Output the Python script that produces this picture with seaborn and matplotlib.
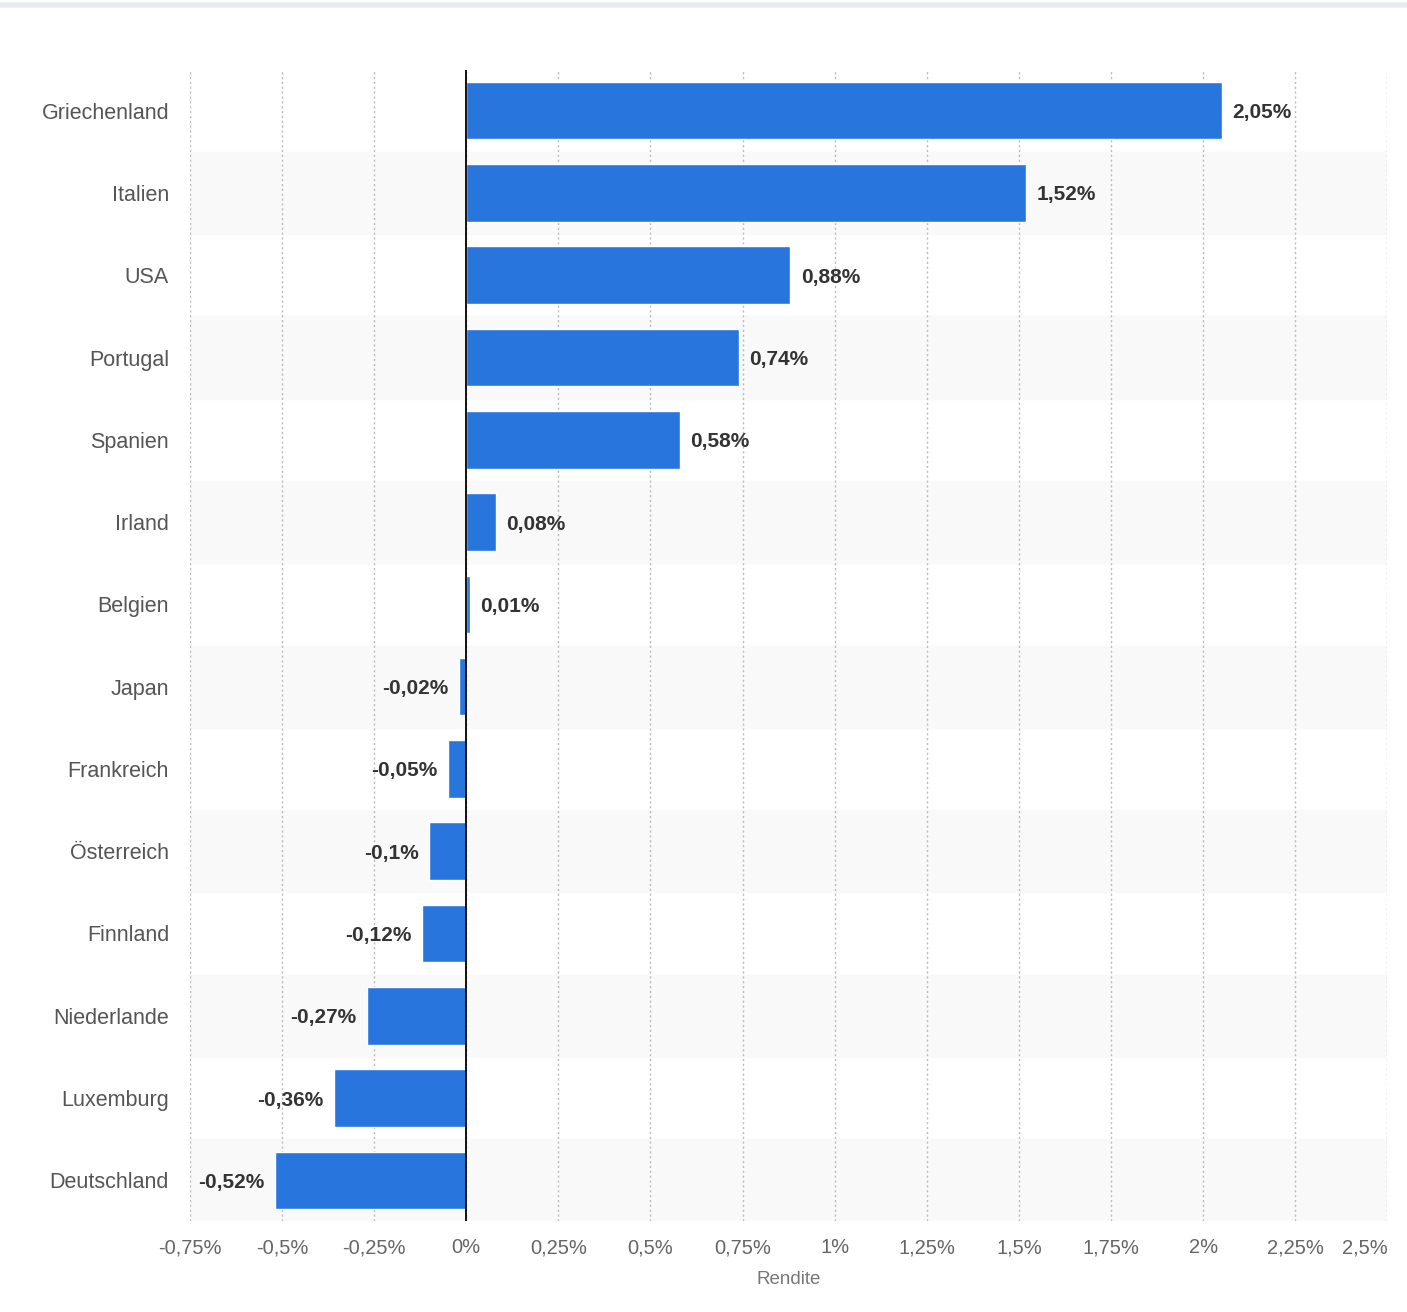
import numpy as np
import pandas as pd
import seaborn as sns
import matplotlib.pyplot as plt

sns.set_style("white")
plt.rcParams['font.family'] = ['Liberation Sans', 'DejaVu Sans']

countries = ["Griechenland", "Italien", "USA", "Portugal", "Spanien", "Irland", "Belgien",
             "Japan", "Frankreich", "Österreich", "Finnland", "Niederlande", "Luxemburg", "Deutschland"]
values = [2.05, 1.52, 0.88, 0.74, 0.58, 0.08, 0.01, -0.02, -0.05, -0.1, -0.12, -0.27, -0.36, -0.52]
labels = ["2,05%", "1,52%", "0,88%", "0,74%", "0,58%", "0,08%", "0,01%",
          "-0,02%", "-0,05%", "-0,1%", "-0,12%", "-0,27%", "-0,36%", "-0,52%"]
ticks = [-0.75, -0.5, -0.25, 0, 0.25, 0.5, 0.75, 1, 1.25, 1.5, 1.75, 2, 2.25, 2.5]
tick_labels = ["-0,75%", "-0,5%", "-0,25%", "0%", "0,25%", "0,5%", "0,75%", "1%",
               "1,25%", "1,5%", "1,75%", "2%", "2,25%", "2,5%"]

df = pd.DataFrame({"Land": countries, "Rendite": values})

fig = plt.figure(figsize=(14.07, 13.12), dpi=100)
ax = fig.add_axes([0.135, 0.069, 0.851, 0.878])

for i in range(len(countries)):
    if i % 2 == 1:
        ax.axhspan(i - 0.5, i + 0.5, color="#f9f9f9", zorder=0)

sns.barplot(data=df, x="Rendite", y="Land", color="#2876dd", saturation=1,
            width=0.7, ax=ax, zorder=3)

ax.set_xlim(-0.75, 2.5)
ax.set_ylim(len(countries) - 0.5, -0.5)
ax.set_xticks(ticks)
ax.set_xticklabels(tick_labels, fontsize=14.5, color="#666666")
ax.get_xticklabels()[-1].set_ha("right")
ax.tick_params(axis="y", labelsize=15.5, labelcolor="#555555", length=0, pad=15)
ax.tick_params(axis="x", length=0, pad=12)
ax.set_ylabel("")
ax.set_xlabel("Rendite", fontsize=13.5, color="#777777", labelpad=10)
for x in ticks:
    ax.axvline(x, color="#bbbbbb", linestyle=(0, (1.5, 2)), linewidth=1, zorder=1)
ax.axvline(0, color="black", linewidth=1.3, zorder=4)
for s in ax.spines.values():
    s.set_visible(False)

for i, (v, t) in enumerate(zip(values, labels)):
    if v >= 0:
        ax.text(v + 0.028, i, t, va="center_baseline", ha="left", fontsize=15, fontweight="bold", color="#333333")
    else:
        ax.text(v - 0.028, i, t, va="center_baseline", ha="right", fontsize=15, fontweight="bold", color="#333333")

fig.add_artist(plt.Line2D([0, 1], [0.996, 0.996], color="#e8ecf2", linewidth=4))
fig.savefig("out.png", dpi=100, facecolor="white")
